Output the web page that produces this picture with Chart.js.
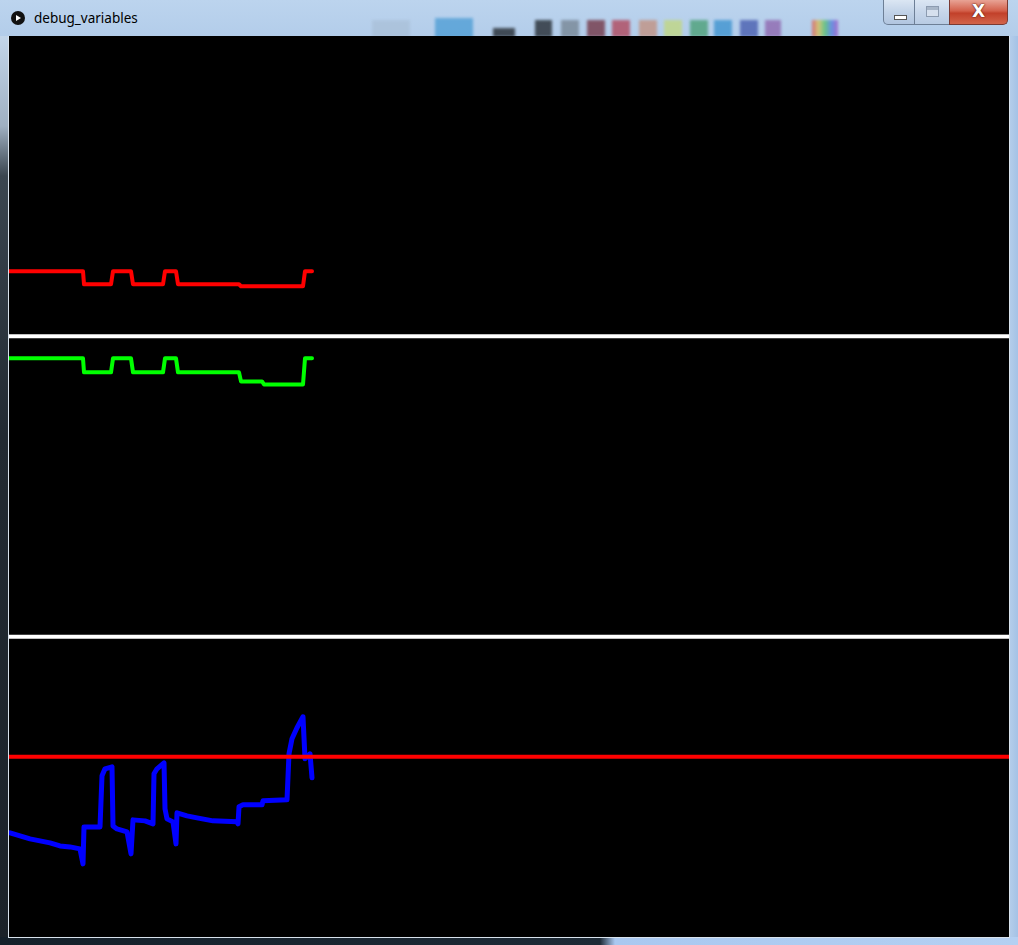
<!DOCTYPE html>
<html>
<head>
<meta charset="utf-8">
<script src="https://cdn.jsdelivr.net/npm/chart.js@4"></script>
<style>
  html,body{margin:0;padding:0;}
  body{width:1018px;height:945px;position:relative;overflow:hidden;
       background:linear-gradient(to bottom,#bcd4ee 0px,#b3cdea 36px,#a9c6ea 100%);}
  #leftFrame{position:absolute;left:0;top:36px;width:9px;height:909px;
       background:linear-gradient(to bottom,#c3d6ea 0px,#9fb0c2 90px,#3b4650 140px,#222a32 400px,#1b2229 100%);}
  #leftFrame:after{content:"";position:absolute;right:0;top:0;width:1px;height:901px;background:#d8e2ec;}
  #bottomFrame{position:absolute;left:0;top:937px;width:1018px;height:8px;
       background:linear-gradient(to right,#15202a 0px,#1d2a36 600px,#a9c8f0 615px,#b4d0f2 100%);}
  #bottomFrame:before{content:"";position:absolute;left:8px;top:0;width:1002px;height:1px;background:#d8e2ec;}
  #rightFrame{position:absolute;left:1009px;top:36px;width:9px;height:901px;
       background:linear-gradient(to right,#d8e2ec 0px,#d8e2ec 1px,#b4cdea 1px,#a4c2e6);}
  #glass span{position:absolute;top:20px;height:17px;filter:blur(1.5px);opacity:.7;}
  #title{position:absolute;left:34px;top:9px;font:13.5px "Noto Sans","DejaVu Sans",sans-serif;color:#000;}
  #icon{position:absolute;left:11px;top:11px;width:14px;height:14px;border-radius:50%;background:#111;}
  #icon:after{content:"";position:absolute;left:5px;top:3.5px;border-left:5px solid #fff;border-top:3.5px solid transparent;border-bottom:3.5px solid transparent;}
  .btn{position:absolute;top:0;height:25px;border:1px solid #6d7f96;border-top:none;box-sizing:border-box;}
  #bmin{left:883px;width:32px;border-radius:0 0 0 5px;background:linear-gradient(#dbe6f3,#c2d3e8 50%,#b1c5df);}
  #bmax{left:914px;width:36px;background:linear-gradient(#dbe6f3,#c7d6ea 50%,#b8cbe3);}
  #bclose{left:949px;width:59px;border-radius:0 0 5px 0;border-color:#7a3a32;background:linear-gradient(#e8a395,#d3604b 45%,#c2402a 55%,#d2644a);}
  #bmin:after{content:"";position:absolute;left:10px;top:15px;width:11px;height:3px;background:#fff;border:1px solid #555;}
  #bmax:after{content:"";position:absolute;left:11px;top:6px;width:11px;height:9px;border:1px solid #8c9bb0;background:#d6e0ee;box-shadow:inset 0 3px 0 #a8b6c8;}
  #bclose span{position:absolute;left:0;width:57px;top:1px;text-align:center;font:bold 17px "DejaVu Sans",sans-serif;color:#fff;text-shadow:0 0 2px #5a1a10,0 0 1px #5a1a10;}
  #plot{position:absolute;left:9px;top:36px;background:#000;}
</style>
</head>
<body>
<div id="glass">
  <span style="left:372px;width:38px;background:#9fb3c8;opacity:.4"></span>
  <span style="left:435px;width:38px;top:18px;height:20px;background:#2f8fcf;opacity:.6"></span>
  <span style="left:493px;width:22px;top:28px;height:9px;background:#101418"></span>
  <span style="left:535px;width:17px;background:#12161a"></span>
  <span style="left:561px;width:18px;background:#6f7d8a"></span>
  <span style="left:587px;width:18px;background:#6b2230"></span>
  <span style="left:612px;width:18px;background:#b0364a"></span>
  <span style="left:639px;width:18px;background:#c48a74"></span>
  <span style="left:664px;width:18px;background:#c3d874"></span>
  <span style="left:690px;width:18px;background:#3e9a68"></span>
  <span style="left:714px;width:18px;background:#2f8ccc"></span>
  <span style="left:740px;width:18px;background:#3a4fa8"></span>
  <span style="left:765px;width:16px;background:#8a5aa8"></span>
  <span style="left:812px;width:26px;background:linear-gradient(to right,#e04848,#e0c048,#48c060,#4878e0,#a048c0)"></span>
</div>
<div id="icon"></div>
<div id="title">debug_variables</div>
<div class="btn" id="bmin"></div>
<div class="btn" id="bmax"></div>
<div class="btn" id="bclose"><span>X</span></div>
<div id="leftFrame"></div>
<div id="rightFrame"></div>
<div id="bottomFrame"></div>
<canvas id="plot" width="1000" height="901"></canvas>
<script>
// sample index (x) and values (y)
const redX   = [0, 74, 75, 102, 104, 122, 124, 154, 156, 167, 169, 230, 232, 294, 296, 303];
const redY   = [665, 665, 652, 652, 665, 665, 652, 652, 665, 665, 652, 652, 650, 650, 665, 665];
const greenX = [0, 74, 75, 102, 104, 122, 124, 154, 156, 167, 169, 230, 232, 253, 255, 294, 296, 303];
const greenY = [578, 578, 564, 564, 578, 578, 564, 564, 578, 578, 564, 564, 555, 555, 552, 552, 578, 578];
const blueX  = [1, 11, 21, 31, 41, 51, 61, 71, 74, 75, 91, 93, 96, 103, 104, 108, 118, 122, 124, 136, 144, 145, 148, 155, 156, 158, 164, 167, 168, 178, 188, 204, 228, 229, 230, 234, 253, 254, 278, 280, 283, 288, 294, 296, 301, 303];
const blueY  = [104, 101, 98, 96, 94, 91, 90, 88, 73, 110, 110, 161, 168, 170, 111, 108, 105, 83, 117, 116, 113, 163, 168, 174, 128, 118, 115, 93, 124, 121, 119, 116, 115, 113, 130, 132, 132, 136, 137, 183, 198, 209, 220, 178, 183, 159];
const dividerLevels = [600, 300];
const thresholdLevel = 180;
const xRange = [0, 1000];
const yRange = [0, 900];

const pts = (xs, ys) => xs.map((x, i) => ({x, y: ys[i]}));
const hline = (v) => [{x: xRange[0], y: v}, {x: xRange[1], y: v}];
const base = {pointRadius: 0, tension: 0, borderJoinStyle: 'round', borderCapStyle: 'round', clip: false};

new Chart(document.getElementById('plot'), {
  type: 'line',
  data: {
    datasets: [
      ...dividerLevels.map(v => ({...base, label: 'divider', data: hline(v), borderColor: '#ffffff', borderWidth: 4, borderCapStyle: 'butt'})),
      {...base, label: 'threshold', data: hline(thresholdLevel), borderColor: '#ff0000', borderWidth: 4, borderCapStyle: 'butt'},
      {...base, label: 'red', data: pts(redX, redY), borderColor: '#ff0000', borderWidth: 4},
      {...base, label: 'green', data: pts(greenX, greenY), borderColor: '#00ff00', borderWidth: 4},
      {...base, label: 'blue', data: pts(blueX, blueY), borderColor: '#0000ff', borderWidth: 5}
    ]
  },
  options: {
    responsive: false,
    animation: false,
    events: [],
    layout: {padding: 0},
    plugins: {legend: {display: false}, tooltip: {enabled: false}},
    scales: {
      x: {type: 'linear', min: xRange[0], max: xRange[1], display: false},
      y: {type: 'linear', min: yRange[0], max: yRange[1], display: false}
    }
  }
});
</script>
</body>
</html>
